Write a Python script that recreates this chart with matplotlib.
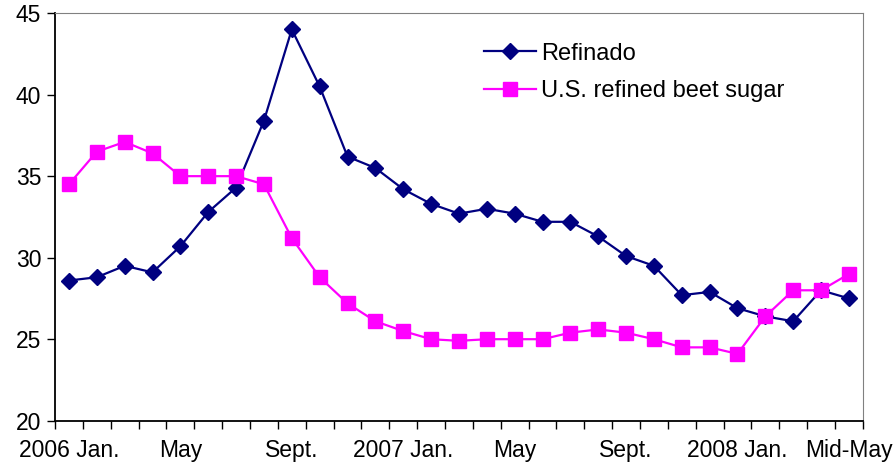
import numpy as np
import matplotlib.pyplot as plt

plt.rcParams['font.family'] = ['Liberation Sans', 'DejaVu Sans']

# monthly prices, Jan 2006 .. mid-May 2008
refinado = [28.6, 28.8, 29.5, 29.1, 30.7, 32.8, 34.3, 38.4, 44.0, 40.5,
            36.2, 35.5, 34.2, 33.3, 32.7, 33.0, 32.7, 32.2, 32.2, 31.3,
            30.1, 29.5, 27.7, 27.9, 26.9, 26.4, 26.1, 28.0, 27.5]
beet = [34.5, 36.5, 37.1, 36.4, 35.0, 35.0, 35.0, 34.5, 31.2, 28.8,
        27.2, 26.1, 25.5, 25.0, 24.9, 25.0, 25.0, 25.0, 25.4, 25.6,
        25.4, 25.0, 24.5, 24.5, 24.1, 26.4, 28.0, 28.0, 29.0]
tick_pos = [0, 4, 8, 12, 16, 20, 24, 28]
tick_labels = ['2006 Jan.', 'May', 'Sept.', '2007 Jan.', 'May', 'Sept.',
               '2008 Jan.', 'Mid-May']

x = np.arange(len(refinado))

fig = plt.figure(figsize=(8.96, 4.68), dpi=100)
ax = fig.add_axes([0.0614, 0.101, 0.9016, 0.871])

ax.plot(x, refinado, '-', color='#000080', lw=1.6, marker='D', ms=8.5,
        label='Refinado')
ax.plot(x, beet, '-', color='#FF00FF', lw=1.6, marker='s', ms=10,
        label='U.S. refined beet sugar')

ax.set_xlim(-0.5, len(x) - 0.5)
ax.set_ylim(20, 45)
ax.set_yticks([20, 25, 30, 35, 40, 45])

ax.set_xticks(tick_pos)
ax.set_xticklabels(tick_labels)
ax.set_xticks(np.arange(-0.5, len(x)), minor=True)
ax.tick_params(axis='x', which='major', length=0, pad=13, labelsize=16.5)
ax.tick_params(axis='x', which='minor', length=6, width=1, direction='out')
ax.tick_params(axis='y', length=6, width=1, direction='out', labelsize=16.5, pad=4)

ax.spines['left'].set_linewidth(1.3)
ax.spines['bottom'].set_linewidth(1.3)
ax.spines['top'].set_color('#808080')
ax.spines['right'].set_color('#808080')

ax.legend(loc='upper left', bbox_to_anchor=(0.505, 0.98), frameon=False,
          fontsize=17, handlelength=2.2, handletextpad=0.2, labelspacing=0.65)

plt.savefig('out.png', dpi=100)
